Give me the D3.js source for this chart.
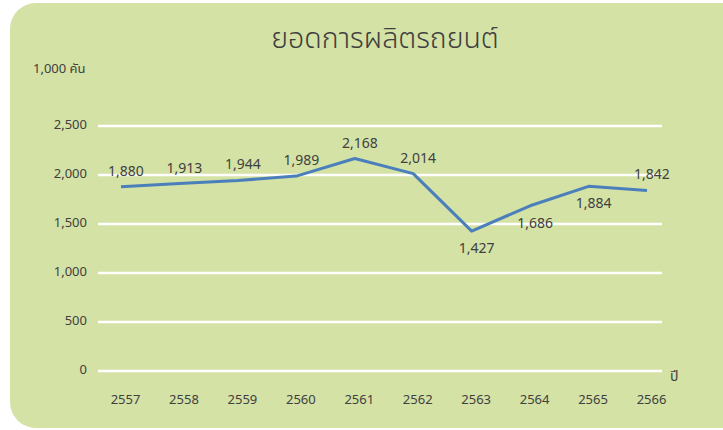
<!DOCTYPE html>
<html>
<head>
<meta charset="utf-8">
<script src="https://cdn.jsdelivr.net/npm/d3@7/dist/d3.min.js"></script>
<style>
  html, body { margin: 0; padding: 0; background: #ffffff; }
  svg { display: block; }
  text { font-family: "Noto Sans", "Noto Sans Thai", "DejaVu Sans", sans-serif; fill: #404040; }
</style>
</head>
<body>
<svg id="chart" width="723" height="430"></svg>
<script>
const years = ["2557","2558","2559","2560","2561","2562","2563","2564","2565","2566"];
const production = [1880, 1913, 1944, 1989, 2168, 2014, 1427, 1686, 1884, 1842];
const labelBelow = [false, false, false, false, false, false, true, true, true, false];
const yTicks = [0, 500, 1000, 1500, 2000, 2500];
const titleText = "ยอดการผลิตรถยนต์";
const yUnitText = "1,000 คัน";
const xUnitText = "ปี";

const svg = d3.select("#chart");

// background panel
svg.append("rect")
  .attr("x", 10).attr("y", 3)
  .attr("width", 740).attr("height", 425)
  .attr("rx", 26).attr("ry", 26)
  .attr("fill", "#d4e2a6");

const x = d3.scalePoint().domain(years).range([121, 647]);
const y = d3.scaleLinear().domain([0, 2500]).range([371, 126]);

// gridlines
svg.append("g").selectAll("line").data(yTicks).join("line")
  .attr("x1", 98).attr("x2", 662)
  .attr("y1", d => y(d)).attr("y2", d => y(d))
  .attr("stroke", "#ffffff").attr("stroke-width", 2.5);

// y axis labels
const yAxis = d3.axisLeft(y).tickValues(yTicks).tickSize(0).tickPadding(0)
  .tickFormat(d3.format(","));
const gy = svg.append("g").attr("transform", "translate(87,-2)").call(yAxis);
gy.select(".domain").remove();
gy.selectAll("text").attr("font-size", 13).attr("fill", "#404040")
  .style("font-family", "'Noto Sans', 'DejaVu Sans', sans-serif");

// x axis labels
const xAxis = d3.axisBottom(x).tickSize(0).tickPadding(0);
const gx = svg.append("g").attr("transform", "translate(4,395)").call(xAxis);
gx.select(".domain").remove();
gx.selectAll("text").attr("font-size", 13).attr("fill", "#404040")
  .style("font-family", "'Noto Sans', 'DejaVu Sans', sans-serif");

// line
const line = d3.line().x((d, i) => x(years[i])).y(d => y(d));
svg.append("path").datum(production)
  .attr("d", line)
  .attr("fill", "none")
  .attr("stroke", "#4a7fbc")
  .attr("stroke-width", 3)
  .attr("stroke-linejoin", "round");

// data labels
svg.append("g").selectAll("text").data(production).join("text")
  .attr("x", (d, i) => x(years[i]) + 5)
  .attr("y", (d, i) => labelBelow[i] ? y(d) + 22 : y(d) - 11)
  .attr("text-anchor", "middle")
  .attr("font-size", 14)
  .text(d => d3.format(",")(d));

// title
svg.append("text")
  .attr("x", 385).attr("y", 48)
  .attr("text-anchor", "middle")
  .attr("font-size", 28.5)
  .attr("font-weight", 300)
  .attr("fill", "#262626")
  .text(titleText);

// units
svg.append("text").attr("x", 33).attr("y", 73).attr("font-size", 13).text(yUnitText);
svg.append("text").attr("x", 670).attr("y", 381).attr("font-size", 14).text(xUnitText);
</script>
</body>
</html>
